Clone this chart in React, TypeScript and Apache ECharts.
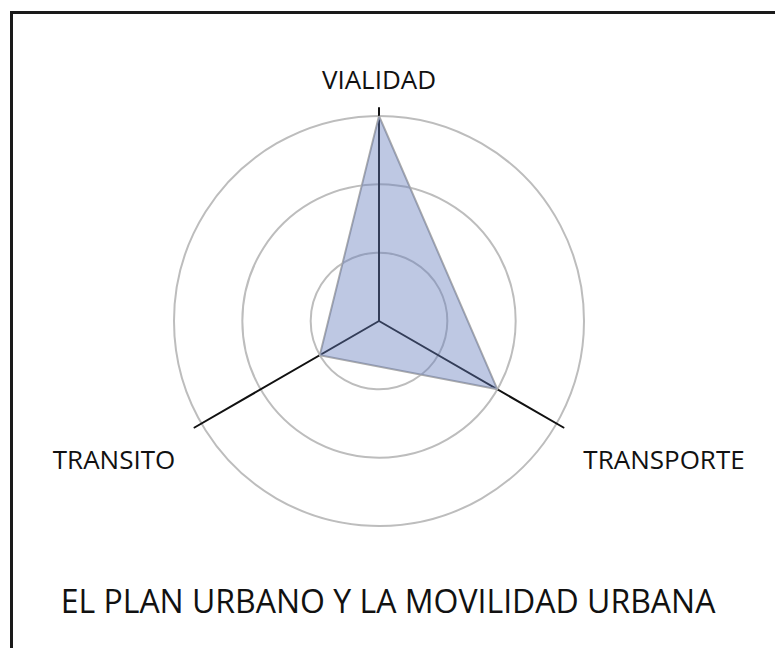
import React, { useEffect, useRef } from "react";
import * as echarts from "echarts";

// ECharts places radar indicators counter-clockwise from the top
const indicators = ["VIALIDAD", "TRANSITO", "TRANSPORTE"];
const maxValue = 3;
const values = [3, 1, 2];
const title = "EL PLAN URBANO Y LA MOVILIDAD URBANA";

const FONT = "'Open Sans', 'Noto Sans', sans-serif";

export default function App() {
  const ref = useRef<HTMLDivElement>(null);
  useEffect(() => {
    if (!ref.current) return;
    const chart = echarts.init(ref.current, undefined, { renderer: "svg" });
    const ind = indicators.map((name) => ({ name, max: maxValue, min: 0 }));
    const center = [379, 321];
    chart.setOption({
      animation: false,
      backgroundColor: "#ffffff",
      radar: [
        {
          center,
          radius: 213,
          startAngle: 90,
          shape: "circle",
          indicator: ind,
          splitNumber: 3,
          axisName: { show: false },
          axisLine: { show: true, lineStyle: { color: "#111111", width: 2 } },
          axisTick: { show: false },
          splitLine: { show: false },
          splitArea: { show: false },
        },
        {
          center,
          radius: 205,
          startAngle: 90,
          shape: "circle",
          indicator: ind,
          splitNumber: 3,
          axisName: { show: false },
          axisLine: { show: false },
          axisTick: { show: false },
          splitLine: { show: true, lineStyle: { color: "#bdbdbd", width: 2 } },
          splitArea: { show: false },
        },
      ],
      series: [
        {
          type: "radar",
          radarIndex: 1,
          symbol: "none",
          z: 5,
          lineStyle: { color: "#ababab", width: 2 },
          areaStyle: { color: "rgba(100,125,188,0.42)", opacity: 1 },
          data: [{ value: values, name: "Movilidad" }],
        },
      ],
      graphic: [
        {
          type: "rect",
          shape: { x: 11.5, y: 12.5, width: 900, height: 900 },
          style: { fill: "none", stroke: "#1a1a1a", lineWidth: 3 },
          silent: true,
        },
        {
          type: "text",
          x: 379,
          y: 79,
          style: { text: indicators[0], font: `26px ${FONT}`, fill: "#111", textAlign: "center", textVerticalAlign: "middle" },
        },
        {
          type: "text",
          x: 664,
          y: 459,
          style: { text: indicators[2], font: `26px ${FONT}`, fill: "#111", textAlign: "center", textVerticalAlign: "middle" },
        },
        {
          type: "text",
          x: 114,
          y: 459,
          style: { text: indicators[1], font: `26px ${FONT}`, fill: "#111", textAlign: "center", textVerticalAlign: "middle" },
        },
        {
          type: "text",
          x: 388,
          y: 600,
          style: { text: title, font: `32px ${FONT}`, fill: "#111", textAlign: "center", textVerticalAlign: "middle" },
        },
      ],
    });
    return () => chart.dispose();
  }, []);
  return (
    <div
      ref={ref}
      style={{ position: "absolute", left: 0, top: 0, width: 775, height: 648 }}
    />
  );
}
